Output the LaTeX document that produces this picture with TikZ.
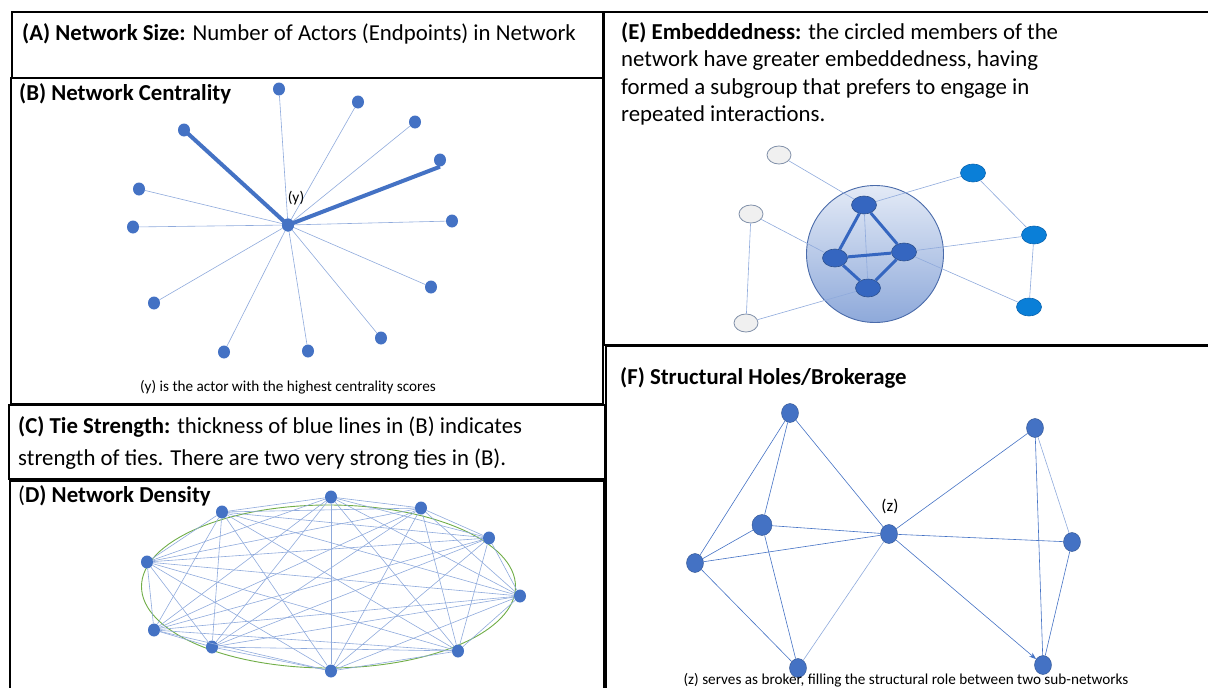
\documentclass[tikz,border=0pt]{standalone}
\usepackage{fontspec}
\setmainfont{Carlito}
\usetikzlibrary{shapes.geometric,arrows.meta}

\definecolor{nodeblue}{HTML}{4472C4}
\definecolor{nodeedge}{HTML}{2F528F}
\definecolor{tiethin}{HTML}{8FAADC}
\definecolor{densgreen}{HTML}{70AD47}
\definecolor{cyanblue}{HTML}{0A7FD8}
\definecolor{cyanedge}{HTML}{0B65B0}
\definecolor{greyfill}{HTML}{F0F0F0}
\definecolor{greyedge}{HTML}{7F8FA8}
\definecolor{innerblue}{HTML}{3566C0}
\definecolor{ringedge}{HTML}{4A6BAA}
\definecolor{ringtop}{HTML}{E3EAF6}
\definecolor{ringbottom}{HTML}{8EA9DA}

\begin{document}
\begin{tikzpicture}[x=1pt,y=-1pt,
  panel/.style={draw=black,line width=2.5pt},
  bigtext/.style={anchor=base west,inner sep=0pt,font=\fontsize{22.8}{27}\selectfont},
  smalltext/.style={anchor=base,inner sep=0pt,font=\fontsize{15.2}{18}\selectfont},
  actor/.style={ellipse,fill=nodeblue,inner sep=0pt,minimum width=12pt,minimum height=13pt},
  factor/.style={ellipse,fill=nodeblue,draw=nodeedge,line width=0.4pt,inner sep=0pt,minimum width=17pt,minimum height=19pt},
  weaktie/.style={draw=tiethin,line width=0.6pt},
  strongtie/.style={draw=nodeblue,line width=4pt},
  denstie/.style={draw=tiethin,line width=0.6pt},
  greyactor/.style={ellipse,fill=greyfill,draw=greyedge,line width=0.8pt,inner sep=0pt,minimum width=24pt,minimum height=18pt},
  cyanactor/.style={ellipse,fill=cyanblue,draw=cyanedge,line width=0.6pt,inner sep=0pt,minimum width=25pt,minimum height=18pt},
  coreactor/.style={ellipse,fill=innerblue,draw=nodeedge,line width=0.6pt,inner sep=0pt,minimum width=25pt,minimum height=18pt},
  coretie/.style={draw=innerblue,line width=3pt},
  brokertie/.style={draw=nodeblue,line width=0.6pt},
]
\useasboundingbox (0,0) rectangle (1208,688);

% ---------- panel frames ----------
\draw[panel] (12,12) rectangle (603,78);
\draw[panel] (11,78) rectangle (603,404);
\draw[panel] (9,405) rectangle (605,479);
\draw[panel] (10,481) rectangle (604,720);
\draw[panel] (604,12) rectangle (1220,345);
\draw[panel] (606,346) rectangle (1220,720);

% ---------- (A) ----------
\node[bigtext] (ta) at (22,40) {\textbf{(A) Network Size:} Number of Actors (Endpoints) in Network};

% ---------- (B) network centrality ----------
\node[bigtext] (tb) at (19,100) {\textbf{(B) Network Centrality}};
\node[actor] (y) at (288,225) {};
\node[actor] (b1) at (279,89) {};
\node[actor] (b2) at (358,102) {};
\node[actor] (b3) at (415,122) {};
\node[actor] (b4) at (440,160) {};
\node[actor] (b5) at (452,221) {};
\node[actor] (b6) at (431,287) {};
\node[actor] (b7) at (381,338) {};
\node[actor] (b8) at (308,351) {};
\node[actor] (b9) at (224,352) {};
\node[actor] (b10) at (154,303) {};
\node[actor] (b11) at (133,227) {};
\node[actor] (b12) at (139,189) {};
\node[actor] (b13) at (184,130) {};
\foreach \k in {1,2,3,5,6,7,8,9,10,11,12}
  \draw[weaktie] (y.center) -- (b\k);
\draw[strongtie] (y.center) -- (b13.center);
\draw[strongtie] (y.center) -- (b4.south);
\node[actor] at (y) {};
\node[inner sep=0pt,font=\fontsize{15.5}{18}\selectfont] (ylab) at (296,198) {(y)};
\node[smalltext] (capb) at (288,391) {(y) is the actor with the highest centrality scores};

% ---------- (C) ----------
\node[bigtext] (tc1) at (18,433) {\textbf{(C) Tie Strength:} thickness of blue lines in (B) indicates};
\node[bigtext] (tc2) at (18,465) {strength of ties. There are two very strong ties in (B).};

% ---------- (D) network density ----------
\node[bigtext] (td) at (18,502) {(\textbf{D) Network Density}};
\draw[densgreen,line width=0.9pt] (328.5,586.5) ellipse [x radius=187, y radius=81.5];
\node[actor] (d1) at (331,497) {};
\node[actor] (d2) at (421,508) {};
\node[actor] (d3) at (489,538) {};
\node[actor] (d4) at (520,596) {};
\node[actor] (d5) at (458,651) {};
\node[actor] (d6) at (331,671) {};
\node[actor] (d7) at (212,647) {};
\node[actor] (d8) at (154,630) {};
\node[actor] (d9) at (147,562) {};
\node[actor] (d10) at (222,512) {};
\foreach \i in {1,...,9} {
  \pgfmathtruncatemacro\nxt{\i+1}
  \foreach \j in {\nxt,...,10}
    \draw[denstie] (d\i) -- (d\j);
}

% ---------- (E) embeddedness ----------
\node[bigtext] (te1) at (621,39) {\textbf{(E) Embeddedness:} the circled members of the};
\node[bigtext] (te2) at (621,66.5) {network have greater embeddedness, having};
\node[bigtext] (te3) at (621,94) {formed a subgroup that prefers to engage in};
\node[bigtext] (te4) at (621,121) {repeated interactions.};

\node[circle,minimum size=137pt,draw=ringedge,line width=0.9pt,
      top color=ringtop,bottom color=ringbottom] (ring) at (875,254) {};

\node[greyactor] (g1) at (779,155) {};
\node[greyactor] (g2) at (751,214) {};
\node[greyactor] (g3) at (746,323) {};
\node[cyanactor] (c1) at (973,173) {};
\node[cyanactor] (c2) at (1034,235) {};
\node[cyanactor] (c3) at (1029,307) {};
\node[coreactor] (kt) at (864,205) {};
\node[coreactor] (kl) at (835,258) {};
\node[coreactor] (kr) at (904,252) {};
\node[coreactor] (kb) at (868,288) {};

\draw[weaktie] (g1) -- (kt);
\draw[weaktie] (g2) -- (kl);
\draw[weaktie] (g2) -- (g3);
\draw[weaktie] (g3) -- (kb);
\draw[weaktie] (kt) -- (c1);
\draw[weaktie] (c1) -- (c2);
\draw[weaktie] (kr) -- (c2);
\draw[weaktie] (c2) -- (c3);
\draw[weaktie] (kr) -- (c3);
\draw[weaktie] (kt) -- (kb);
\draw[coretie] (kt) -- (kl);
\draw[coretie] (kt) -- (kr);
\draw[coretie] (kl) -- (kr);
\draw[coretie] (kl) -- (kb);
\draw[coretie] (kr) -- (kb);

% ---------- (F) structural holes ----------
\node[bigtext] (tf) at (620,384) {\textbf{(F) Structural Holes/Brokerage}};
\node[factor] (f1) at (790,413) {};
\node[factor,minimum width=20pt,minimum height=21pt] (f2) at (762,525) {};
\node[factor] (f3) at (695,563) {};
\node[factor] (f4) at (798,668) {};
\node[factor] (z) at (889,534) {};
\node[factor] (f5) at (1035,428) {};
\node[factor] (f6) at (1072,542) {};
\node[factor] (f7) at (1043,665) {};
\draw[brokertie] (f1) -- (f3);
\draw[brokertie] (f1) -- (f2);
\draw[brokertie] (f1) -- (z);
\draw[brokertie] (f2) -- (f3);
\draw[brokertie] (f2) -- (z);
\draw[brokertie] (f2) -- (f4);
\draw[brokertie] (f3) -- (z);
\draw[brokertie] (f3) -- (f4);
\draw[weaktie] (z) -- (f4);
\draw[brokertie] (z) -- (f5);
\draw[brokertie] (z) -- (f6);
\draw[brokertie,-{Stealth[length=7pt,width=5pt]}] (z) -- (f7);
\draw[brokertie] (f5) -- (f7);
\draw[weaktie] (f5) -- (f6);
\draw[brokertie] (f6) -- (f7);
\node[inner sep=0pt,font=\fontsize{17}{20}\selectfont] (zlab) at (890,506) {(z)};
\node[smalltext] (capf) at (906,684) {(z) serves as broker, filling the structural role between two sub-networks};
\end{tikzpicture}
\end{document}
